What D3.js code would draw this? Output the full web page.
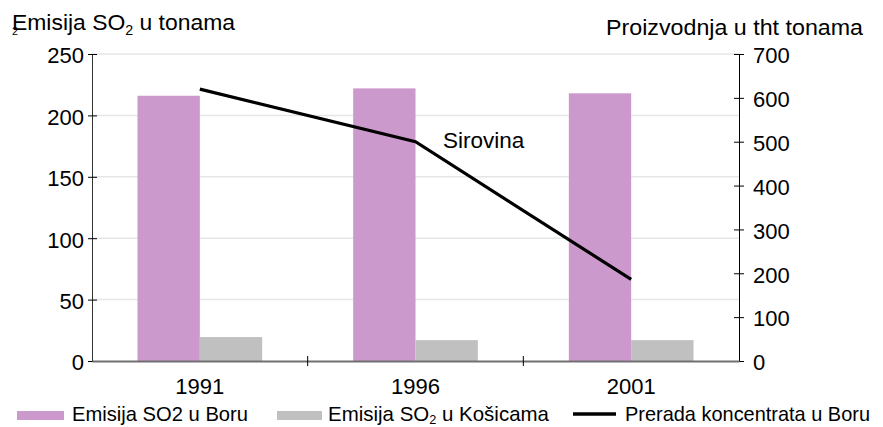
<!DOCTYPE html>
<html>
<head>
<meta charset="utf-8">
<script src="https://cdn.jsdelivr.net/npm/d3@7"></script>
<style>
  body { margin: 0; background: #fff; }
  text { font-family: "Liberation Sans", Arial, sans-serif; fill: #000; }
</style>
</head>
<body>
<div id="chart"></div>
<script>
// podaci
const years = ["1991", "1996", "2001"];
const emisijaBor = [216, 222, 218];
const emisijaKosice = [19.5, 17, 17];
const preradaBor = [620, 500, 186];
const leftTicks = [0, 50, 100, 150, 200, 250];
const rightTicks = [0, 100, 200, 300, 400, 500, 600, 700];

const width = 883, height = 427;
const x0 = 92, x1 = 739, yTop = 54, yBottom = 361;

const svg = d3.select("#chart").append("svg")
  .attr("width", width)
  .attr("height", height);

const x = d3.scaleBand().domain(years).range([x0, x1]);
const xs = d3.scaleBand().domain(["bor", "kosice"]).range([0, x.bandwidth()])
  .paddingOuter(0.73);
const yL = d3.scaleLinear().domain([0, 250]).range([yBottom, yTop]);
const yR = d3.scaleLinear().domain([0, 700]).range([yBottom, yTop]);

// mreza
svg.append("g").selectAll("line")
  .data(leftTicks.filter(d => d > 0))
  .enter().append("line")
  .attr("x1", x0).attr("x2", x1)
  .attr("y1", d => yL(d)).attr("y2", d => yL(d))
  .attr("stroke", "#e6e6e6").attr("stroke-width", 1.5);

// stupci
const groups = svg.append("g").selectAll("g")
  .data(years.map((y, i) => ({ year: y, bor: emisijaBor[i], kosice: emisijaKosice[i] })))
  .enter().append("g")
  .attr("transform", d => `translate(${x(d.year)},0)`);

groups.append("rect")
  .attr("x", xs("bor")).attr("width", xs.bandwidth())
  .attr("y", d => yL(d.bor)).attr("height", d => yBottom - yL(d.bor))
  .attr("fill", "#cc99cc");

groups.append("rect")
  .attr("x", xs("kosice")).attr("width", xs.bandwidth())
  .attr("y", d => yL(d.kosice)).attr("height", d => yBottom - yL(d.kosice))
  .attr("fill", "#c0c0c0");

// osi
const fontFam = "'Liberation Sans', Arial, sans-serif";

const leftAxis = svg.append("g").attr("transform", `translate(${x0},0)`)
  .call(d3.axisLeft(yL).tickValues(leftTicks).tickSize(0).tickPadding(8));
leftAxis.select(".domain").attr("stroke", "#333");
leftAxis.selectAll(".tick line").attr("x1", -4).attr("x2", 5).attr("stroke", "#000");
leftAxis.selectAll("text").attr("font-size", 22).attr("dy", "0.4em")
  .style("font-family", fontFam);

const rightAxis = svg.append("g").attr("transform", `translate(${x1},0)`)
  .call(d3.axisRight(yR).tickValues(rightTicks).tickSize(0).tickPadding(14));
rightAxis.select(".domain").attr("stroke", "#000");
rightAxis.selectAll(".tick line").attr("x1", -5).attr("x2", 5).attr("stroke", "#000");
rightAxis.selectAll("text").attr("font-size", 22).attr("dy", "0.4em")
  .style("font-family", fontFam);

const bottomAxis = svg.append("g").attr("transform", `translate(0,${yBottom})`)
  .call(d3.axisBottom(x).tickSize(0).tickPadding(17));
bottomAxis.select(".domain").attr("stroke", "#707070").attr("stroke-width", 2);
bottomAxis.selectAll("text").attr("font-size", 22).attr("dy", "0.71em")
  .style("font-family", fontFam);
svg.append("g").selectAll("line")
  .data(years.slice(1))
  .enter().append("line")
  .attr("x1", d => x(d)).attr("x2", d => x(d))
  .attr("y1", yBottom - 5).attr("y2", yBottom + 5)
  .attr("stroke", "#000");

// linija prerade
const line = d3.line()
  .x((d, i) => x(years[i]) + x.bandwidth() / 2)
  .y(d => yR(d));
svg.append("path")
  .datum(preradaBor)
  .attr("d", line)
  .attr("fill", "none")
  .attr("stroke", "#000")
  .attr("stroke-width", 3.2);

svg.append("text")
  .attr("x", 443).attr("y", 148)
  .attr("font-size", 22.5)
  .text("Sirovina");

// naslovi osi
const tl = svg.append("text").attr("x", 12).attr("y", 30).attr("font-size", 22.5)
  .attr("textLength", 223).attr("lengthAdjust", "spacingAndGlyphs");
tl.append("tspan").text("Emisija SO");
tl.append("tspan").attr("font-size", 14).attr("dy", 5).text("2");
tl.append("tspan").attr("dy", -5).text(" u tonama");
svg.append("text").attr("x", 12).attr("y", 35).attr("font-size", 11).text("2");

svg.append("text").attr("x", 606).attr("y", 35).attr("font-size", 22.5)
  .attr("textLength", 257).attr("lengthAdjust", "spacingAndGlyphs")
  .text("Proizvodnja u tht tonama");

// legenda
const ly = 421;
svg.append("rect").attr("x", 17).attr("y", 411).attr("width", 47).attr("height", 9).attr("fill", "#cc99cc");
svg.append("text").attr("x", 72).attr("y", ly).attr("font-size", 21)
  .attr("textLength", 176).attr("lengthAdjust", "spacingAndGlyphs")
  .text("Emisija SO2 u Boru");

svg.append("rect").attr("x", 277).attr("y", 411).attr("width", 45).attr("height", 9).attr("fill", "#c0c0c0");
const lk = svg.append("text").attr("x", 328).attr("y", ly).attr("font-size", 21)
  .attr("textLength", 221).attr("lengthAdjust", "spacingAndGlyphs");
lk.append("tspan").text("Emisija SO");
lk.append("tspan").attr("font-size", 13).attr("dy", 3).text("2");
lk.append("tspan").attr("dy", -3).text(" u Košicama");

svg.append("line").attr("x1", 573).attr("x2", 616).attr("y1", 414).attr("y2", 414)
  .attr("stroke", "#000").attr("stroke-width", 3.5);
svg.append("text").attr("x", 625).attr("y", ly).attr("font-size", 21)
  .attr("textLength", 245).attr("lengthAdjust", "spacingAndGlyphs")
  .text("Prerada koncentrata u Boru");
</script>
</body>
</html>
